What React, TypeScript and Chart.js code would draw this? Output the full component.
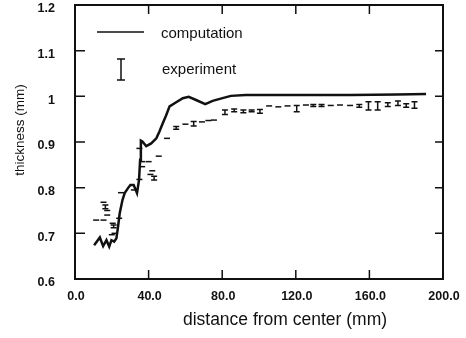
import { useEffect, useRef } from "react";
import { Chart, registerables } from "chart.js";

Chart.register(...registerables);

const xTickValues = [0, 40, 80, 120, 160, 200];
const xTickLabels = ["0.0", "40.0", "80.0", "120.0", "160.0", "200.0"];
const yTickValues = [0.6, 0.7, 0.8, 0.9, 1.0, 1.1, 1.2];
const yTickLabels = ["0.6", "0.7", "0.8", "0.9", "1", "1.1", "1.2"];

const xTitle = "distance from center (mm)";
const yTitle = "thickness (mm)";
const legendLabels = ["computation", "experiment"];

const computationX = [10.4, 13.5, 15.3, 17.1, 18.6, 19.8, 21.3, 22.5, 23.4, 24.3, 25.8, 27, 28.8, 30.1, 31.9, 33.7, 34.8, 35.4, 35.8, 36.6, 38.7, 41.4, 44.2, 45.9, 47.7, 49.5, 51.4, 55, 58.6, 61.8, 65.8, 70.8, 74.8, 80.2, 84.7, 92.8, 105.4, 125.2, 150, 175, 190.8];
const computationY = [0.674, 0.691, 0.672, 0.685, 0.671, 0.685, 0.682, 0.689, 0.715, 0.744, 0.773, 0.788, 0.799, 0.806, 0.806, 0.788, 0.817, 0.861, 0.903, 0.901, 0.891, 0.897, 0.908, 0.923, 0.941, 0.958, 0.978, 0.987, 0.996, 0.999, 0.992, 0.983, 0.99, 0.996, 1.001, 1.003, 1.003, 1.003, 1.003, 1.004, 1.005];

const experimentX = [11.5, 15.5, 15.5, 16.5, 17.5, 17.5, 20.5, 21, 21.5, 20, 24, 25, 32, 35, 35, 36.5, 36.5, 40, 42, 41, 43, 45.5, 50, 55, 60, 64.5, 69, 72.5, 75.5, 81.5, 86.5, 91.5, 96, 100.5, 105.5, 110.5, 115.5, 120.5, 125.5, 129.5, 134, 139, 144, 149.5, 154.5, 159.5, 164.5, 170, 175.5, 180, 184.5];
const experimentY = [0.729, 0.729, 0.768, 0.758, 0.75, 0.74, 0.722, 0.715, 0.7, 0.697, 0.733, 0.789, 0.795, 0.818, 0.886, 0.857, 0.846, 0.857, 0.837, 0.829, 0.821, 0.869, 0.908, 0.931, 0.939, 0.94, 0.944, 0.947, 0.948, 0.965, 0.969, 0.967, 0.968, 0.967, 0.979, 0.977, 0.979, 0.973, 0.981, 0.98, 0.98, 0.98, 0.981, 0.98, 0.979, 0.979, 0.979, 0.982, 0.985, 0.98, 0.981];
const experimentErr = [0, 0, 0, 0.004, 0, 0, 0, 0.003, 0, 0, 0, 0, 0, 0, 0, 0, 0, 0, 0, 0, 0.004, 0, 0, 0.003, 0, 0.005, 0, 0, 0, 0.005, 0.003, 0.003, 0.002, 0.004, 0, 0, 0, 0.007, 0, 0.002, 0.002, 0, 0, 0, 0.003, 0.009, 0.009, 0.004, 0.005, 0.004, 0.007];

const INK = "#111111";
const FONT = "'Liberation Sans', Arial, Helvetica, sans-serif";

const decorPlugin = {
  id: "decor",
  afterDatasetsDraw(chart: any) {
    const { ctx, chartArea: a, scales } = chart;
    const x = scales.x;
    const y = scales.y;
    ctx.save();
    ctx.strokeStyle = INK;
    ctx.fillStyle = INK;

    // experiment error bars
    const meta = chart.getDatasetMeta(1);
    ctx.lineWidth = 1.5;
    meta.data.forEach((pt: any, i: number) => {
      const px = pt.x;
      const e = experimentErr[i];
      const top = y.getPixelForValue(experimentY[i] + e);
      const bot = y.getPixelForValue(experimentY[i] - e);
      ctx.beginPath();
      ctx.moveTo(px - 3, top);
      ctx.lineTo(px + 3, top);
      if (e > 0) {
        ctx.moveTo(px, top);
        ctx.lineTo(px, bot);
        ctx.moveTo(px - 3, bot);
        ctx.lineTo(px + 3, bot);
      }
      ctx.stroke();
    });

    // frame
    ctx.lineWidth = 2;
    ctx.strokeRect(a.left, a.top, a.right - a.left, a.bottom - a.top);

    // inward ticks on all sides
    ctx.lineWidth = 1.5;
    ctx.beginPath();
    xTickValues.forEach((v) => {
      const px = x.getPixelForValue(v);
      ctx.moveTo(px, a.bottom);
      ctx.lineTo(px, a.bottom - 9);
      ctx.moveTo(px, a.top);
      ctx.lineTo(px, a.top + 9);
    });
    yTickValues.forEach((v) => {
      const py = y.getPixelForValue(v);
      ctx.moveTo(a.left, py);
      ctx.lineTo(a.left + 10, py);
      ctx.moveTo(a.right, py);
      ctx.lineTo(a.right - 8, py);
    });
    ctx.stroke();

    // legend
    ctx.lineWidth = 1.5;
    ctx.beginPath();
    ctx.moveTo(a.left + 22, a.top + 27);
    ctx.lineTo(a.left + 69, a.top + 27);
    const ex = a.left + 46;
    ctx.moveTo(ex - 4, a.top + 54);
    ctx.lineTo(ex + 4, a.top + 54);
    ctx.moveTo(ex, a.top + 54);
    ctx.lineTo(ex, a.top + 75);
    ctx.moveTo(ex - 4, a.top + 75);
    ctx.lineTo(ex + 4, a.top + 75);
    ctx.stroke();
    ctx.font = `15px ${FONT}`;
    ctx.textAlign = "left";
    ctx.textBaseline = "middle";
    ctx.fillText(legendLabels[0], a.left + 86, a.top + 29);
    ctx.fillText(legendLabels[1], a.left + 87, a.top + 65);

    // axis titles
    ctx.font = `17.5px ${FONT}`;
    ctx.textAlign = "center";
    ctx.fillText(xTitle, 285, 320);
    ctx.save();
    ctx.translate(20, 130);
    ctx.rotate(-Math.PI / 2);
    ctx.font = `13.5px ${FONT}`;
    ctx.fillText(yTitle, 0, 0);
    ctx.restore();

    ctx.restore();
  },
};

export default function App() {
  const ref = useRef<HTMLCanvasElement | null>(null);

  useEffect(() => {
    if (!ref.current) return;
    const chart = new Chart(ref.current, {
      type: "line",
      data: {
        datasets: [
          {
            label: legendLabels[0],
            data: computationX.map((v, i) => ({ x: v, y: computationY[i] })),
            borderColor: INK,
            borderWidth: 2.5,
            pointRadius: 0,
            tension: 0,
            fill: false,
          },
          {
            label: legendLabels[1],
            data: experimentX.map((v, i) => ({ x: v, y: experimentY[i] })),
            showLine: false,
            pointRadius: 0,
            borderColor: INK,
          },
        ],
      },
      options: {
        animation: false,
        responsive: false,
        devicePixelRatio: 1,
        layout: { padding: { top: 5, right: 23, left: 0, bottom: 0 } },
        plugins: {
          legend: { display: false },
          tooltip: { enabled: false },
        },
        scales: {
          x: {
            type: "linear",
            min: 0,
            max: 200,
            grid: { display: false },
            border: { display: false },
            afterBuildTicks: (s: any) => {
              s.ticks = xTickValues.map((v) => ({ value: v }));
            },
            afterFit: (s: any) => {
              s.height = 59;
              s.paddingLeft = 0;
              s.paddingRight = 0;
            },
            ticks: {
              padding: 2,
              labelOffset: 1,
              maxRotation: 0,
              autoSkip: false,
              color: INK,
              font: { family: FONT, size: 12.5, weight: "bold" },
              callback: (value: any) => {
                const i = xTickValues.findIndex((t) => Math.abs(t - Number(value)) < 1e-6);
                return i >= 0 ? xTickLabels[i] : "";
              },
            },
          },
          y: {
            type: "linear",
            min: 0.6,
            max: 1.2,
            grid: { display: false },
            border: { display: false },
            afterBuildTicks: (s: any) => {
              s.ticks = yTickValues.map((v) => ({ value: v }));
            },
            afterFit: (s: any) => {
              s.width = 75;
              s.paddingTop = 0;
              s.paddingBottom = 0;
            },
            ticks: {
              padding: 12,
              labelOffset: 4,
              autoSkip: false,
              color: INK,
              font: { family: FONT, size: 12.5, weight: "bold" },
              callback: (value: any) => {
                const i = yTickValues.findIndex((t) => Math.abs(t - Number(value)) < 1e-6);
                return i >= 0 ? yTickLabels[i] : "";
              },
            },
          },
        },
      },
      plugins: [decorPlugin],
    } as any);
    return () => chart.destroy();
  }, []);

  return (
    <div style={{ position: "absolute", left: 0, top: 0, width: 466, height: 338, background: "#fff" }}>
      <canvas ref={ref} width={466} height={338} style={{ display: "block" }} />
    </div>
  );
}
